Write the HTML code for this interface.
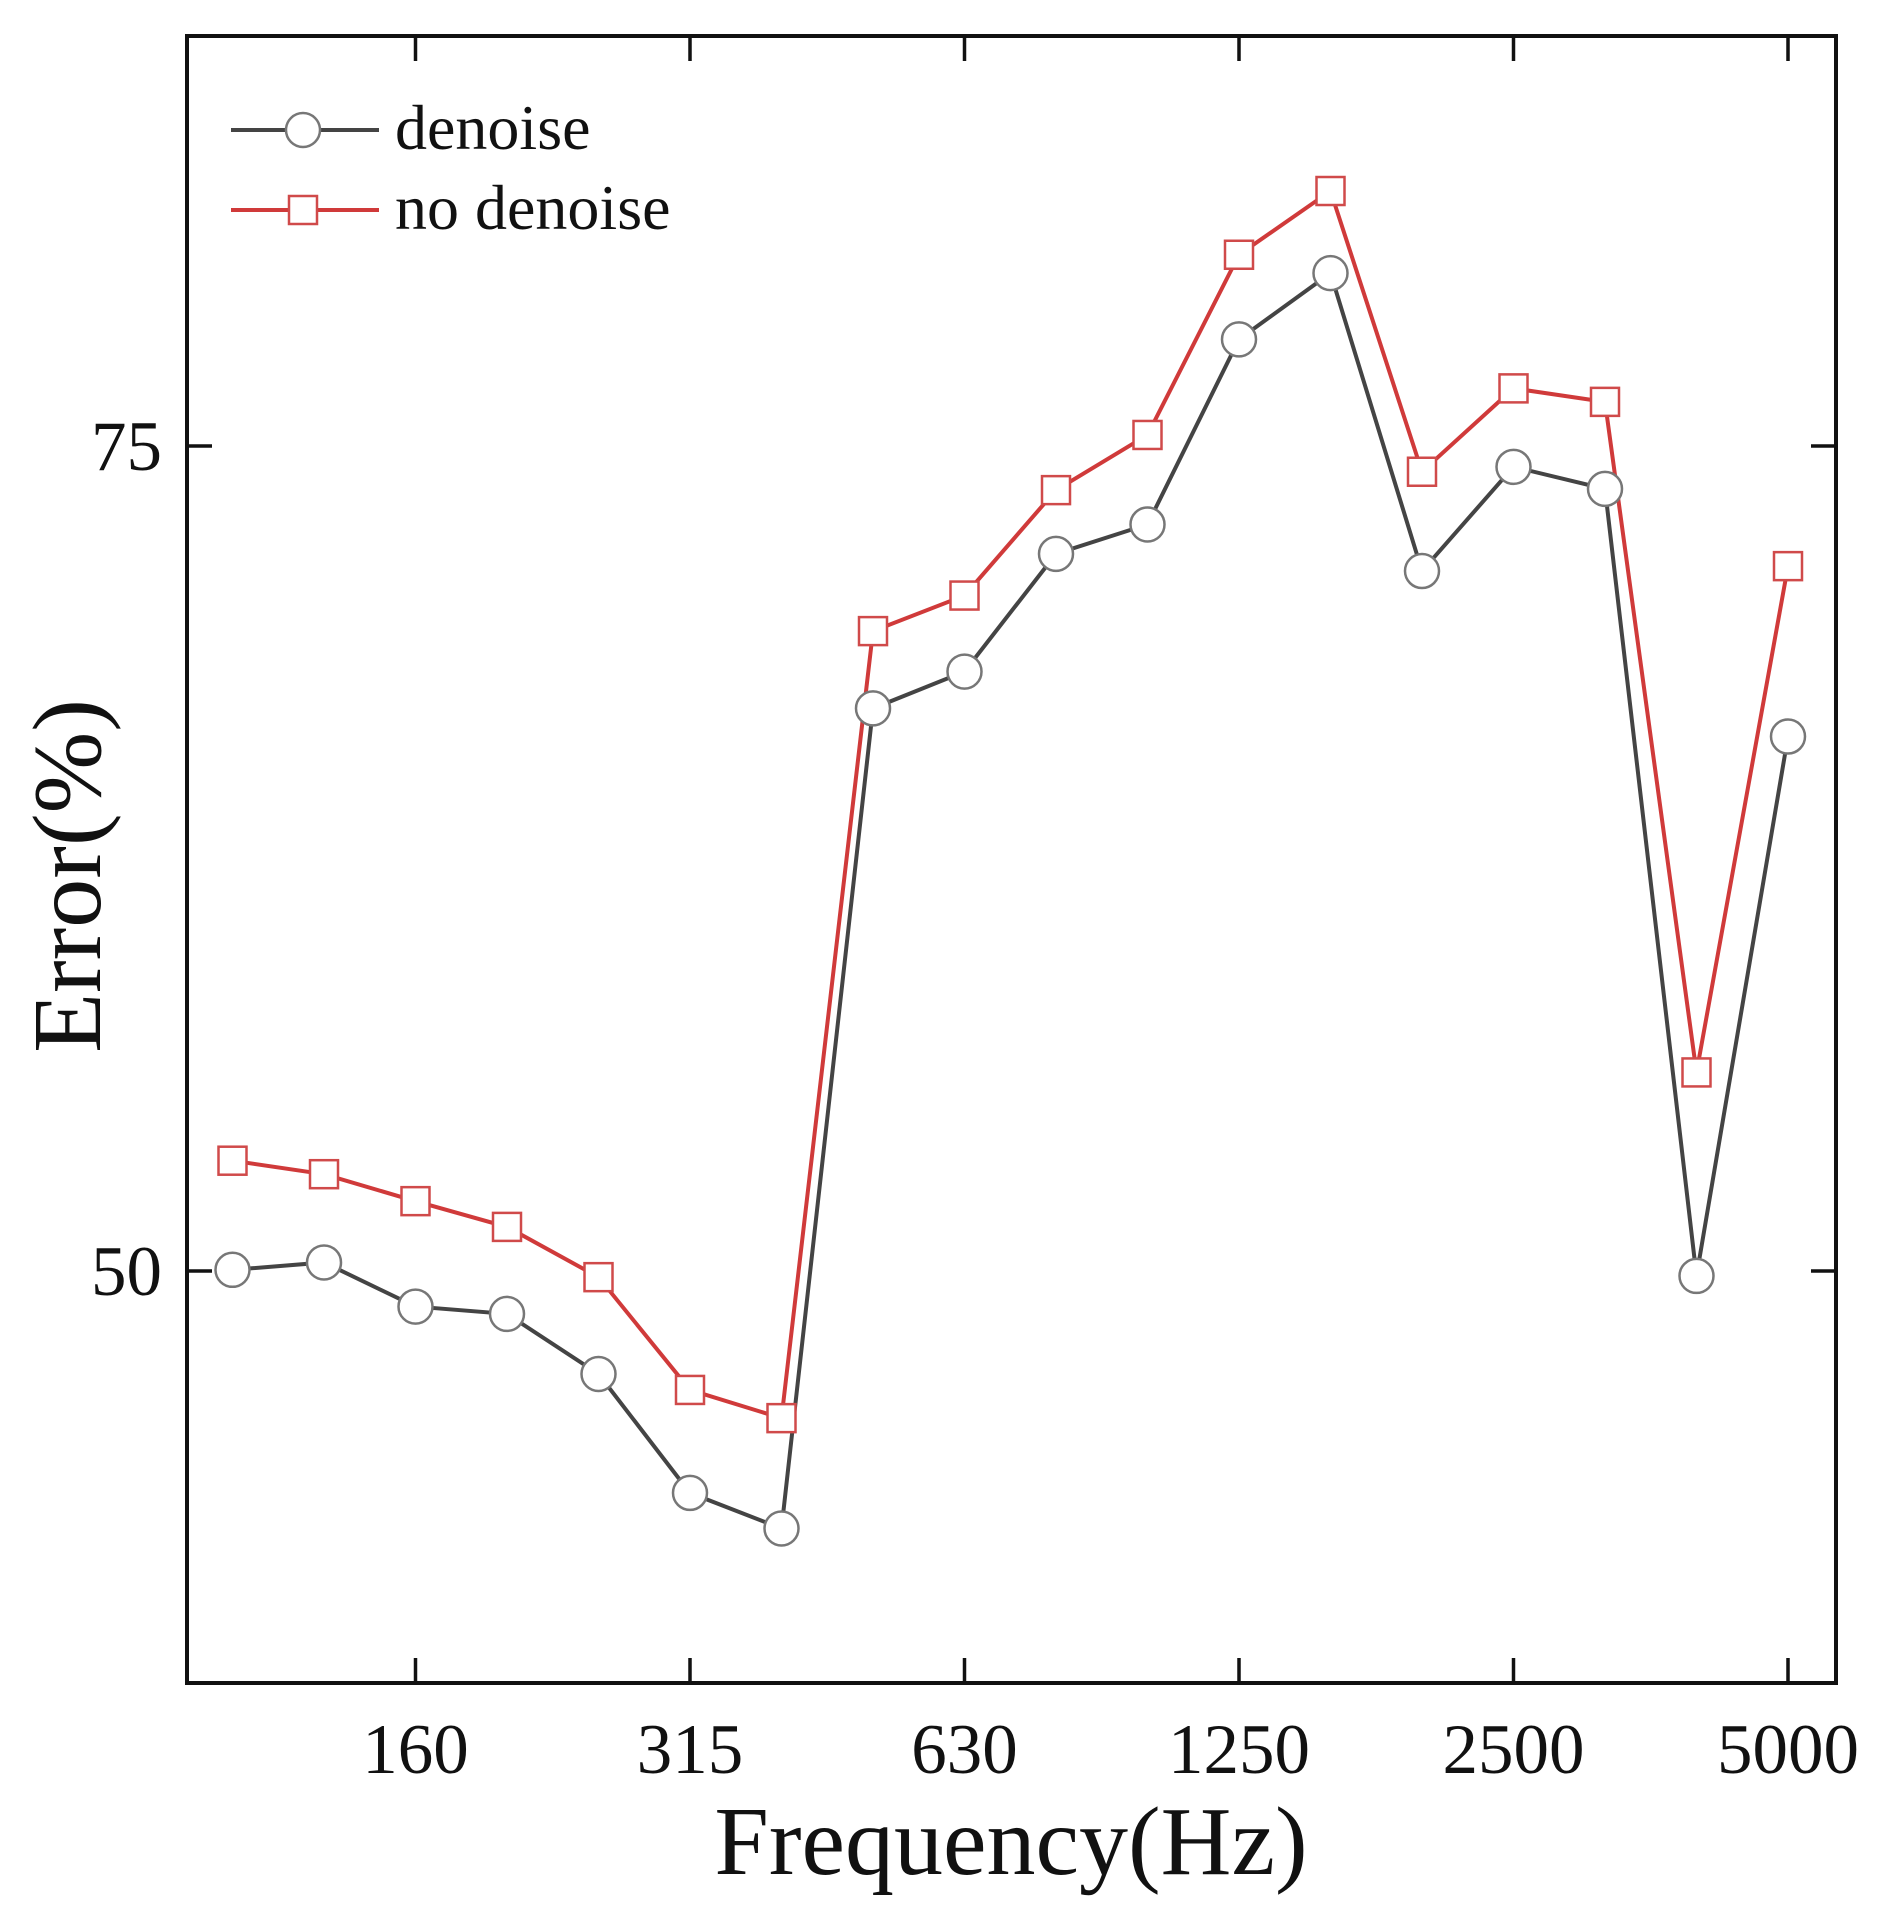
<!DOCTYPE html>
<html><head><meta charset="utf-8"><style>
html,body{margin:0;padding:0;background:#fff;}
svg{display:block;}
text{font-family:"Liberation Serif",serif;fill:#111;}
</style></head><body>
<svg id="c" width="1890" height="1920" viewBox="0 0 1890 1920" xmlns="http://www.w3.org/2000/svg">
<rect x="187" y="36" width="1649" height="1647" fill="none" stroke="#111" stroke-width="4"/>
<g id="ticks" stroke="#111" stroke-width="3.5"></g>
<g id="series"></g>
<g font-size="71" text-anchor="middle">
<text x="415.5" y="1773">160</text>
<text x="690" y="1773">315</text>
<text x="964.5" y="1773">630</text>
<text x="1239" y="1773">1250</text>
<text x="1513.5" y="1773">2500</text>
<text x="1788" y="1773">5000</text>
</g>
<g font-size="71" text-anchor="end">
<text x="162" y="470">75</text>
<text x="162" y="1295">50</text>
</g>
<text x="1011" y="1874" font-size="98" text-anchor="middle">Frequency(Hz)</text>
<text transform="translate(100,876) rotate(-90)" font-size="98" text-anchor="middle">Error(%)</text>
<line x1="231" y1="130" x2="379" y2="130" stroke="#444" stroke-width="4"/>
<circle cx="303" cy="130" r="17" fill="#fff" stroke="#777" stroke-width="2.5"/>
<line x1="231" y1="210" x2="379" y2="210" stroke="#d03a3a" stroke-width="4"/>
<rect x="289" y="196" width="28" height="28" fill="#fff" stroke="#d04a4a" stroke-width="2.5"/>
<text x="395" y="149" font-size="64">denoise</text>
<text x="395" y="229" font-size="64">no denoise</text>
</svg>
<script>
var NS="http://www.w3.org/2000/svg";
function el(t,a,p){var e=document.createElementNS(NS,t);for(var k in a)e.setAttribute(k,a[k]);p.appendChild(e);return e;}
var tk=document.getElementById('ticks');
[415.5,690,964.5,1239,1513.5,1788].forEach(function(x){
 el('line',{x1:x,y1:1683,x2:x,y2:1658},tk);
 el('line',{x1:x,y1:36,x2:x,y2:61},tk);
});
[446,1271].forEach(function(y){
 el('line',{x1:187,y1:y,x2:212,y2:y},tk);
 el('line',{x1:1836,y1:y,x2:1811,y2:y},tk);
});
var d=[1036,1030,1066,1072,1121,1218,1247,578,548,452,428,277,223,466,381,399,1041,601];
var n=[947,958,980,1001,1042,1134,1157,515,486,400,355,208,156,385,317,328,875,462];
function Y(v){return 446+(v-364)*1.2259;}
function X(i){return 232.5+91.5*i;}
var s=document.getElementById('series');
var pd=d.map(function(v,i){return X(i)+','+Y(v)}).join(' ');
var pn=n.map(function(v,i){return X(i)+','+Y(v)}).join(' ');
el('polyline',{points:pd,fill:'none',stroke:'#444','stroke-width':4},s);
el('polyline',{points:pn,fill:'none',stroke:'#d03a3a','stroke-width':4},s);
d.forEach(function(v,i){el('circle',{cx:X(i),cy:Y(v),r:17,fill:'#fff',stroke:'#777','stroke-width':2.5},s);});
n.forEach(function(v,i){el('rect',{x:X(i)-14,y:Y(v)-14,width:28,height:28,fill:'#fff',stroke:'#d04a4a','stroke-width':2.5},s);});
</script>
</body></html>
